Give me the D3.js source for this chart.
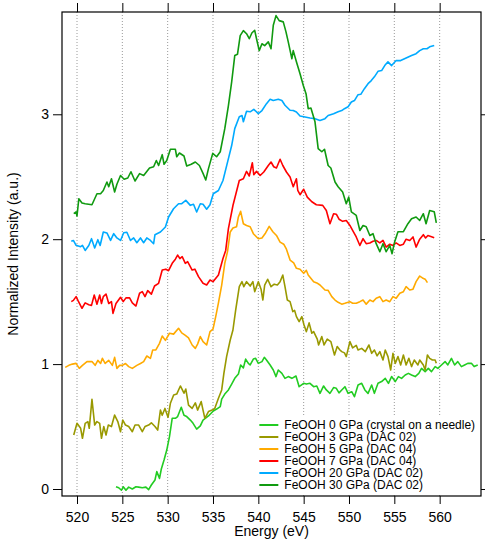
<!DOCTYPE html>
<html>
<head>
<meta charset="utf-8">
<script src="https://cdn.jsdelivr.net/npm/d3@7"></script>
<style>
  body { margin: 0; background: #fff; }
  text { font-family: "Liberation Sans", Arial, sans-serif; }
</style>
</head>
<body>
<div id="chart"></div>
<script>
// Series labels and colours (legend order)
var seriesNames = [
  "FeOOH 0 GPa (crystal on a needle)",
  "FeOOH 3 GPa (DAC 02)",
  "FeOOH 5 GPa (DAC 04)",
  "FeOOH 7 GPa (DAC 04)",
  "FeOOH 20 GPa (DAC 02)",
  "FeOOH 30 GPa (DAC 02)"
];
var seriesColors = ["#22cc22", "#999900", "#ffaa00", "#ff0000", "#00aaff", "#109a10"];

// Tick values
var xTicks = [520, 525, 530, 535, 540, 545, 550, 555, 560];
var yTicks = [0, 1, 2, 3];

// [energy (eV), normalized intensity]
var feooh0 = [[524.3,0.018],[524.6,0.01],[524.9,-0.01],[525.1,0.018],[525.4,-0.01],[525.7,0.015],[526.1,0.0],[526.5,0.018],[526.8,0.015],[527.2,0.01],[527.6,0.015],[527.9,-0.005],[528.2,0.032],[528.6,0.072],[528.8,0.139],[529.1,0.085],[529.3,0.16],[529.6,0.232],[529.9,0.312],[530.2,0.419],[530.5,0.566],[530.85,0.566],[531.1,0.58],[531.5,0.654],[531.8,0.59],[532.1,0.58],[532.5,0.552],[532.8,0.526],[533.2,0.48],[533.6,0.505],[533.9,0.552],[534.5,0.585],[535.03,0.625],[535.4,0.64],[535.8,0.66],[535.96,0.72],[536.3,0.76],[536.7,0.793],[537.06,0.84],[537.4,0.886],[537.8,0.92],[538.05,0.993],[538.35,0.97],[538.6,1.04],[538.9,1.006],[539.1,0.993],[539.45,1.04],[539.7,1.046],[540.0,1.006],[540.4,1.02],[540.66,1.054],[540.9,1.033],[541.3,0.993],[541.65,0.953],[541.95,0.90],[542.2,0.953],[542.6,0.926],[542.94,0.886],[543.3,0.90],[543.7,0.886],[544.15,0.905],[544.5,0.819],[545.0,0.846],[545.3,0.84],[545.7,0.846],[546.1,0.819],[546.45,0.825],[546.8,0.766],[547.2,0.825],[547.5,0.793],[547.9,0.766],[548.3,0.812],[548.6,0.806],[548.9,0.77],[549.2,0.793],[549.55,0.819],[549.9,0.766],[550.3,0.779],[550.6,0.739],[551.0,0.833],[551.4,0.846],[551.75,0.793],[552.1,0.766],[552.5,0.833],[552.8,0.766],[553.2,0.846],[553.6,0.86],[554.0,0.886],[554.35,0.846],[554.7,0.90],[555.1,0.86],[555.45,0.90],[555.8,0.886],[556.2,0.913],[556.55,0.926],[556.9,0.913],[557.3,0.90],[557.7,0.926],[558.0,0.966],[558.4,0.94],[558.75,0.966],[559.1,0.94],[559.5,0.98],[559.8,0.966],[560.2,0.993],[560.6,1.02],[560.9,0.993],[561.3,1.046],[561.65,0.993],[562.0,1.02],[562.4,0.98],[562.75,0.993],[563.1,1.006],[563.5,1.006],[563.8,0.98],[564.2,0.993]];

var feooh3 = [[519.64,0.432],[520.0,0.526],[520.4,0.486],[520.6,0.406],[520.9,0.526],[521.2,0.54],[521.35,0.486],[521.65,0.718],[521.95,0.512],[522.2,0.54],[522.5,0.526],[522.7,0.406],[522.95,0.50],[523.2,0.432],[523.45,0.512],[523.8,0.50],[524.15,0.592],[524.5,0.54],[524.8,0.459],[525.05,0.552],[525.35,0.512],[525.7,0.50],[526.1,0.459],[526.4,0.512],[526.8,0.512],[527.2,0.459],[527.5,0.50],[527.9,0.512],[528.2,0.53],[528.6,0.50],[528.9,0.472],[529.2,0.632],[529.4,0.59],[529.7,0.645],[530.04,0.574],[530.3,0.686],[530.66,0.753],[531.0,0.76],[531.4,0.825],[531.8,0.767],[532.0,0.80],[532.3,0.672],[532.7,0.645],[533.05,0.69],[533.3,0.632],[533.7,0.70],[533.9,0.632],[534.1,0.566],[534.5,0.62],[534.9,0.632],[535.2,0.646],[535.6,0.726],[535.96,0.793],[536.2,0.926],[536.5,1.06],[536.9,1.193],[537.2,1.273],[537.5,1.433],[537.9,1.62],[538.2,1.66],[538.4,1.62],[538.7,1.66],[539.1,1.625],[539.4,1.66],[539.6,1.58],[540.0,1.66],[540.3,1.60],[540.5,1.513],[540.7,1.633],[541.03,1.679],[541.4,1.62],[541.75,1.64],[542.1,1.633],[542.4,1.66],[542.7,1.713],[542.94,1.62],[543.2,1.513],[543.5,1.50],[543.8,1.42],[544.0,1.43],[544.2,1.38],[544.5,1.34],[544.8,1.38],[545.04,1.313],[545.3,1.26],[545.6,1.33],[545.9,1.247],[546.1,1.26],[546.5,1.20],[546.65,1.153],[547.0,1.22],[547.25,1.153],[547.6,1.20],[548.0,1.18],[548.4,1.073],[548.7,1.14],[549.0,1.113],[549.2,1.10],[549.5,1.09],[549.7,1.06],[550.1,1.18],[550.4,1.13],[550.8,1.15],[551.0,1.113],[551.4,1.126],[551.8,1.10],[552.2,1.153],[552.5,1.086],[552.8,1.113],[553.1,1.066],[553.4,1.10],[553.75,1.033],[554.0,1.113],[554.3,1.06],[554.6,0.953],[554.85,1.086],[555.1,1.006],[555.4,1.06],[555.7,0.993],[556.0,1.073],[556.3,0.993],[556.6,1.046],[556.9,0.98],[557.2,1.033],[557.6,0.993],[557.8,1.033],[558.2,0.993],[558.4,0.953],[558.65,1.073],[558.9,1.046],[559.2,1.033],[559.5,1.033],[559.63,1.006]];

var feooh5 = [[518.7,0.974],[519.1,0.99],[519.5,1.00],[519.9,1.006],[520.25,0.966],[520.6,0.99],[521.1,1.02],[521.65,1.02],[522.0,0.99],[522.3,1.03],[522.6,1.005],[522.8,1.046],[523.1,1.005],[523.5,1.03],[523.9,0.99],[524.15,1.054],[524.4,0.966],[524.7,0.99],[525.0,0.99],[525.35,1.005],[525.7,0.98],[526.1,0.966],[526.6,0.99],[527.0,1.005],[527.35,1.02],[527.7,1.065],[528.1,1.046],[528.35,1.113],[528.7,1.113],[529.1,1.166],[529.4,1.225],[529.75,1.19],[530.2,1.247],[530.65,1.24],[531.2,1.287],[531.55,1.25],[531.95,1.23],[532.3,1.21],[532.7,1.153],[533.05,1.126],[533.3,1.16],[533.6,1.22],[533.9,1.18],[534.3,1.153],[534.67,1.26],[535.0,1.28],[535.3,1.38],[535.6,1.49],[535.96,1.633],[536.3,1.807],[536.6,1.90],[536.9,2.058],[537.2,2.09],[537.6,2.10],[537.8,2.178],[538.05,2.223],[538.35,2.124],[538.7,2.11],[539.1,2.10],[539.45,2.044],[540.0,2.004],[540.4,2.01],[540.8,2.05],[541.2,2.103],[541.6,2.06],[542.0,2.03],[542.4,1.977],[542.8,1.96],[543.1,1.92],[543.5,1.833],[543.9,1.81],[544.2,1.767],[544.6,1.76],[545.0,1.727],[545.3,1.75],[545.5,1.713],[546.1,1.66],[546.45,1.65],[546.8,1.633],[547.35,1.593],[547.7,1.59],[548.1,1.54],[548.46,1.513],[548.8,1.495],[549.2,1.48],[549.55,1.487],[550.1,1.50],[550.4,1.487],[550.8,1.487],[551.2,1.50],[551.55,1.513],[551.9,1.48],[552.3,1.513],[552.65,1.50],[553.0,1.527],[553.4,1.54],[553.75,1.50],[554.1,1.513],[554.5,1.50],[554.85,1.54],[555.2,1.527],[555.6,1.567],[556.0,1.58],[556.3,1.62],[556.7,1.593],[557.06,1.60],[557.4,1.66],[557.8,1.705],[558.1,1.69],[558.4,1.68],[558.65,1.652]];

var feooh7 = [[519.37,1.50],[519.6,1.51],[519.9,1.54],[520.1,1.51],[520.55,1.447],[520.9,1.49],[521.3,1.475],[521.6,1.47],[521.9,1.553],[522.2,1.48],[522.5,1.553],[522.7,1.485],[522.9,1.54],[523.2,1.561],[523.5,1.485],[523.8,1.50],[523.97,1.406],[524.3,1.485],[524.8,1.535],[525.1,1.50],[525.4,1.53],[525.8,1.53],[526.1,1.49],[526.5,1.465],[526.9,1.567],[527.2,1.58],[527.5,1.54],[527.8,1.588],[528.2,1.56],[528.55,1.625],[529.0,1.647],[529.4,1.753],[529.8,1.76],[530.1,1.748],[530.5,1.807],[530.85,1.84],[531.1,1.873],[531.35,1.845],[531.6,1.86],[531.95,1.807],[532.2,1.82],[532.7,1.753],[533.0,1.76],[533.4,1.70],[533.9,1.647],[534.3,1.633],[534.67,1.673],[535.0,1.66],[535.6,1.713],[536.1,1.845],[536.4,1.91],[536.7,2.084],[537.2,2.27],[537.9,2.47],[538.35,2.484],[538.7,2.543],[539.0,2.506],[539.34,2.612],[539.5,2.516],[539.8,2.543],[540.2,2.51],[540.6,2.538],[541.1,2.59],[541.4,2.618],[541.7,2.58],[542.0,2.57],[542.4,2.64],[542.7,2.59],[543.1,2.538],[543.5,2.498],[543.85,2.42],[544.2,2.484],[544.35,2.39],[544.6,2.356],[545.0,2.40],[545.4,2.337],[545.9,2.30],[546.4,2.276],[547.1,2.271],[547.5,2.23],[547.9,2.124],[548.3,2.204],[548.6,2.20],[548.9,2.16],[549.3,2.143],[549.7,2.15],[550.1,2.11],[550.4,2.07],[550.8,2.018],[551.2,1.95],[551.55,2.004],[551.9,1.964],[552.3,1.97],[552.65,1.983],[553.0,1.99],[553.4,1.97],[553.75,1.99],[554.1,1.937],[554.5,1.96],[554.85,1.95],[555.2,1.97],[555.6,1.95],[556.0,1.96],[556.3,2.00],[556.7,1.99],[557.06,2.018],[557.4,1.937],[557.8,2.00],[558.2,2.036],[558.45,2.01],[558.7,2.03],[559.1,2.02],[559.4,2.012]];

var feooh20 = [[519.37,1.983],[519.6,1.99],[519.9,1.951],[520.4,1.94],[520.6,1.95],[520.9,1.91],[521.3,1.95],[521.6,2.004],[521.95,1.93],[522.3,1.996],[522.55,1.95],[522.9,2.058],[523.3,2.05],[523.7,1.99],[524.05,2.044],[524.4,2.01],[524.8,1.99],[525.15,2.052],[525.5,2.056],[525.9,1.99],[526.25,2.01],[526.6,1.972],[527.0,2.01],[527.35,1.972],[527.7,2.01],[528.1,1.99],[528.45,1.964],[528.6,2.036],[529.2,2.058],[529.75,2.098],[530.1,2.178],[530.65,2.244],[531.2,2.284],[531.55,2.284],[532.0,2.311],[532.5,2.271],[532.85,2.28],[533.2,2.218],[533.6,2.284],[533.9,2.28],[534.3,2.24],[534.67,2.276],[535.03,2.364],[535.6,2.39],[536.1,2.47],[536.7,2.645],[537.06,2.75],[537.4,2.885],[537.9,2.98],[538.2,2.99],[538.35,2.94],[538.7,3.024],[539.1,3.02],[539.5,3.04],[540.0,3.005],[540.4,3.03],[540.9,3.085],[541.3,3.12],[541.65,3.11],[542.2,3.12],[542.6,3.11],[542.94,3.072],[543.5,3.032],[543.85,3.03],[544.2,3.018],[544.6,2.986],[545.15,2.978],[545.7,2.97],[546.25,2.965],[546.8,2.95],[547.35,2.965],[547.7,2.99],[548.3,3.005],[548.8,3.02],[549.2,3.03],[549.5,3.045],[549.9,3.06],[550.26,3.098],[550.6,3.11],[551.0,3.157],[551.3,3.16],[551.7,3.205],[552.1,3.245],[552.46,3.27],[552.8,3.30],[553.2,3.344],[553.6,3.35],[553.94,3.39],[554.3,3.42],[554.7,3.39],[555.2,3.43],[555.7,3.43],[556.3,3.45],[556.9,3.47],[557.4,3.485],[557.8,3.51],[558.2,3.525],[558.6,3.525],[558.9,3.54],[559.4,3.55]];

var feooh30 = [[519.64,2.204],[519.9,2.218],[520.0,2.186],[520.2,2.324],[520.55,2.29],[520.9,2.284],[521.65,2.276],[522.2,2.364],[522.6,2.364],[522.9,2.39],[523.3,2.458],[523.5,2.42],[523.8,2.484],[524.15,2.378],[524.4,2.44],[524.8,2.51],[525.2,2.48],[525.6,2.49],[525.95,2.54],[526.4,2.466],[526.9,2.525],[527.35,2.51],[528.0,2.57],[528.45,2.58],[528.75,2.63],[529.0,2.59],[529.4,2.677],[529.6,2.60],[529.9,2.63],[530.3,2.72],[530.85,2.72],[531.0,2.66],[531.3,2.69],[531.8,2.666],[532.1,2.586],[532.6,2.60],[533.05,2.618],[533.5,2.59],[533.9,2.527],[534.2,2.474],[534.5,2.565],[534.97,2.687],[535.4,2.66],[535.8,2.70],[536.3,2.885],[536.7,3.07],[537.06,3.26],[537.4,3.47],[537.7,3.48],[538.0,3.63],[538.35,3.67],[538.7,3.645],[539.0,3.605],[539.3,3.653],[539.6,3.672],[539.8,3.605],[540.1,3.51],[540.4,3.565],[540.7,3.55],[541.1,3.58],[541.4,3.525],[541.65,3.713],[541.95,3.79],[542.3,3.75],[542.75,3.74],[543.05,3.66],[543.3,3.58],[543.7,3.445],[543.85,3.51],[544.2,3.42],[544.6,3.325],[544.96,3.23],[545.26,3.165],[545.5,3.045],[545.8,3.05],[546.25,2.94],[546.6,2.725],[547.0,2.70],[547.3,2.72],[547.7,2.59],[548.0,2.57],[548.46,2.458],[548.8,2.42],[549.3,2.378],[549.7,2.284],[549.97,2.337],[550.26,2.218],[550.8,2.19],[551.2,2.07],[551.55,2.11],[551.9,2.10],[552.3,2.03],[552.65,2.044],[553.0,1.964],[553.4,1.90],[553.75,1.964],[554.1,1.90],[554.5,1.95],[554.75,1.884],[555.04,1.98],[555.4,2.06],[556.0,2.06],[556.5,2.124],[556.9,2.164],[557.4,2.178],[557.8,2.15],[558.2,2.204],[558.5,2.124],[558.9,2.23],[559.4,2.22],[559.63,2.13]];

var allSeries = [feooh0, feooh3, feooh5, feooh7, feooh20, feooh30];

// Layout
var margin = {top: 12, right: 4, bottom: 44, left: 62},
    width = 485 - margin.left - margin.right,
    height = 540 - margin.top - margin.bottom;

var svg = d3.select("#chart")
  .append("svg")
    .attr("width", width + margin.left + margin.right)
    .attr("height", height + margin.top + margin.bottom)
  .append("g")
    .attr("transform", "translate(" + margin.left + "," + margin.top + ")");

// Scales
var x = d3.scaleLinear().domain([518.345, 564.56]).range([0, width]);
var y = d3.scaleLinear().domain([-0.056, 3.819]).range([height, 0]);

// Dotted vertical grid
svg.selectAll("line.grid")
  .data(xTicks)
  .enter()
  .append("line")
    .attr("class", "grid")
    .attr("x1", function(d) { return x(d); })
    .attr("x2", function(d) { return x(d); })
    .attr("y1", 0)
    .attr("y2", height)
    .attr("stroke", "#9a9a9a")
    .attr("stroke-width", 1)
    .attr("stroke-dasharray", "1,2");

// Spectra
var line = d3.line()
  .x(function(d) { return x(d[0]); })
  .y(function(d) { return y(d[1]); });

svg.selectAll("path.spec")
  .data(allSeries)
  .enter()
  .append("path")
    .attr("class", "spec")
    .attr("d", line)
    .attr("fill", "none")
    .attr("stroke", function(d, i) { return seriesColors[i]; })
    .attr("stroke-width", 1.6)
    .attr("stroke-linejoin", "round");

// Axes, ticks outside on all four sides
function styleAxis(g) {
  g.select(".domain").remove();
  g.selectAll("text")
    .attr("font-size", "14px")
    .attr("font-family", "Liberation Sans, Arial, sans-serif")
    .attr("fill", "#000");
}

svg.append("g")
  .attr("transform", "translate(0," + height + ")")
  .call(d3.axisBottom(x).tickValues(xTicks).tickSize(8).tickPadding(8))
  .call(styleAxis);

svg.append("g")
  .call(d3.axisTop(x).tickValues(xTicks).tickSize(9).tickFormat(""))
  .call(styleAxis);

svg.append("g")
  .call(d3.axisLeft(y).tickValues(yTicks).tickSize(9).tickPadding(4).tickFormat(d3.format("d")))
  .call(styleAxis);

svg.append("g")
  .attr("transform", "translate(" + width + ",0)")
  .call(d3.axisRight(y).tickValues(yTicks).tickSize(5).tickFormat(""))
  .call(styleAxis);

// Frame
svg.append("rect")
  .attr("width", width)
  .attr("height", height)
  .attr("fill", "none")
  .attr("stroke", "#000")
  .attr("stroke-width", 1.2);

// Legend
var legendX = x(540) - 7;
var legend = svg.append("g")
  .attr("transform", "translate(" + legendX + "," + 403 + ")");

legend.append("rect")
  .attr("width", width - legendX - 1)
  .attr("height", height - 403 - 1)
  .attr("fill", "#fff");

var rows = legend.selectAll("g.row")
  .data(seriesNames)
  .enter()
  .append("g")
    .attr("class", "row")
    .attr("transform", function(d, i) { return "translate(0," + (10 + i * 12) + ")"; });

rows.append("line")
  .attr("x1", 8)
  .attr("x2", 27)
  .attr("stroke", function(d, i) { return seriesColors[i]; })
  .attr("stroke-width", 2);

rows.append("text")
  .attr("x", 33)
  .attr("dy", "0.35em")
  .attr("font-size", "12px")
  .text(function(d) { return d; });

// Axis labels
svg.append("text")
  .attr("text-anchor", "middle")
  .attr("x", width / 2)
  .attr("y", height + 40)
  .attr("font-size", "14px")
  .text("Energy (eV)");

svg.append("text")
  .attr("text-anchor", "middle")
  .attr("transform", "rotate(-90)")
  .attr("x", -height / 2)
  .attr("y", -margin.left + 18)
  .attr("font-size", "14px")
  .text("Normalized Intensity (a.u.)");
</script>
</body>
</html>
